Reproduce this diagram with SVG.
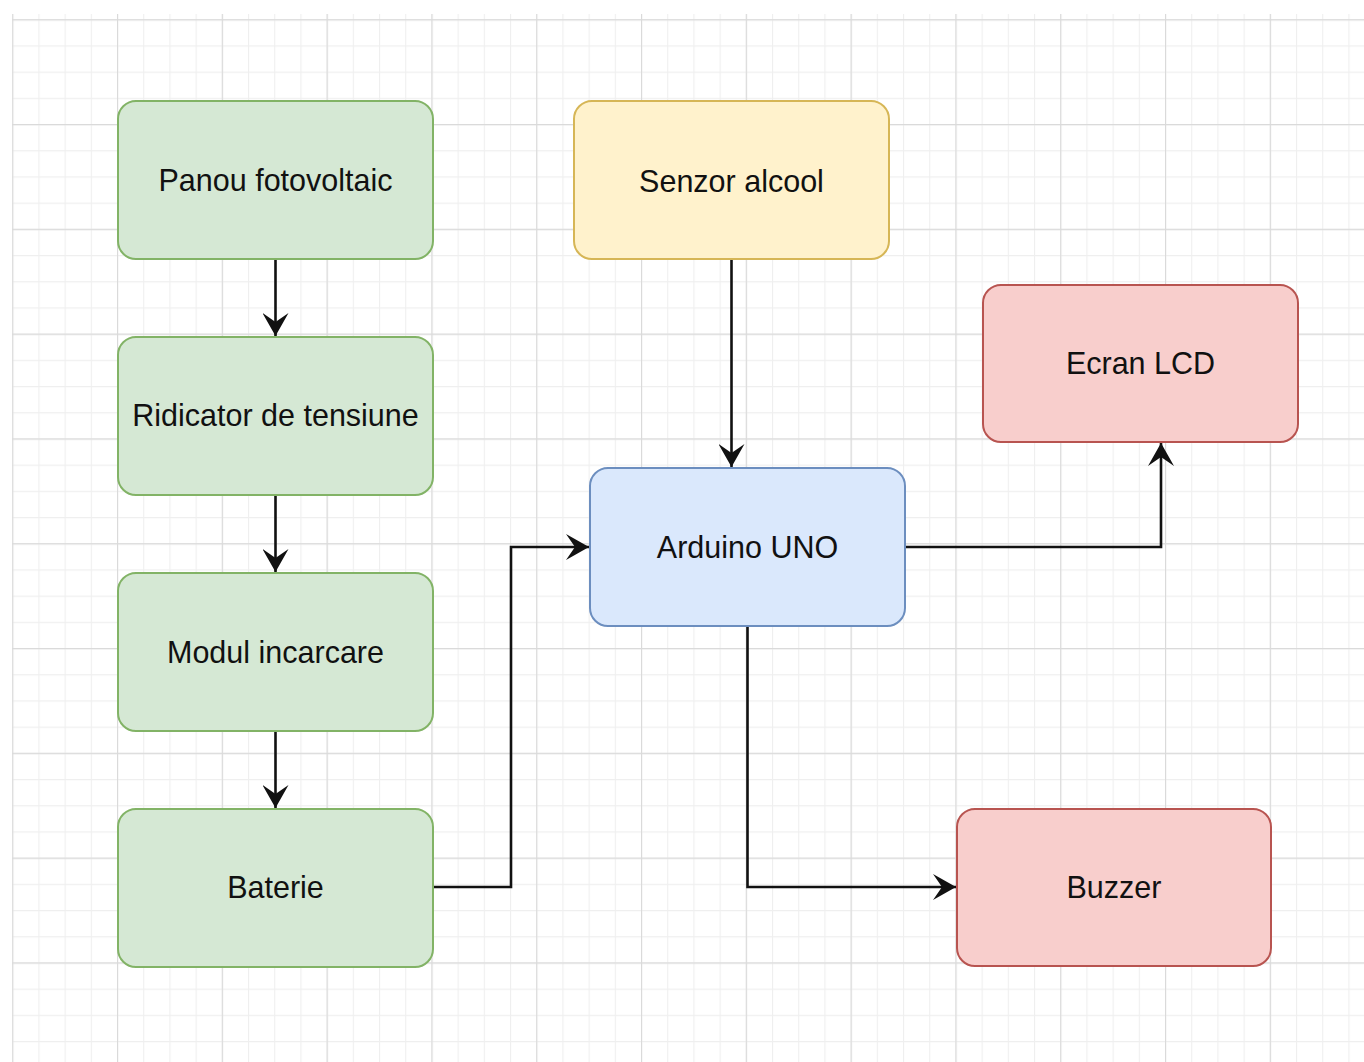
<svg xmlns="http://www.w3.org/2000/svg" width="1364" height="1062" viewBox="0 0 1364 1062">
  <defs>
    <pattern id="minor" patternUnits="userSpaceOnUse" x="12.2" y="19.2" width="26.2" height="26.2">
      <path d="M0 0.5H26.2M0.5 0V26.2" fill="none" stroke="#efefef" stroke-width="1.2"/>
    </pattern>
    <pattern id="major" patternUnits="userSpaceOnUse" x="12.2" y="19.2" width="104.8" height="104.8">
      <path d="M0 0.5H104.8M0.5 0V104.8" fill="none" stroke="#dadada" stroke-width="1.3"/>
    </pattern>
    <marker id="arr" viewBox="0 0 24 26" refX="23" refY="13" markerWidth="24" markerHeight="26" markerUnits="userSpaceOnUse" orient="auto">
      <path d="M0 0L23 13L0 26L9 13Z" fill="#111"/>
    </marker>
    <style>
      .node rect { stroke-width: 2; }
      .green rect { fill: #d5e8d4; stroke: #82b366; }
      .yellow rect { fill: #fff2cc; stroke: #d6b656; }
      .blue rect { fill: #dae8fc; stroke: #6c8ebf; }
      .red rect { fill: #f8cecc; stroke: #b85450; }
      .node text { font-family: "Liberation Sans", Arial, sans-serif; font-size: 30.5px; fill: #111; text-anchor: middle; }
      .edge { fill: none; stroke: #111; stroke-width: 2.6; marker-end: url(#arr); }
    </style>
  </defs>
  <rect width="1364" height="1062" fill="#ffffff"/>
  <rect x="12" y="14" width="1352" height="1048" fill="url(#minor)"/>
  <rect x="12" y="14" width="1352" height="1048" fill="url(#major)"/>

  <g id="connectors">
    <path class="edge" d="M275.5 259V336"/>
    <path class="edge" d="M275.5 495V572"/>
    <path class="edge" d="M275.5 731V808"/>
    <path class="edge" d="M433 887H511V547H589"/>
    <path class="edge" d="M731.5 259V467"/>
    <path class="edge" d="M905 547H1161V443"/>
    <path class="edge" d="M747.5 626V887H956"/>
  </g>

  <g id="panou" class="node green">
    <rect x="118" y="101" width="315" height="158" rx="18"/>
    <text x="275.5" y="191">Panou fotovoltaic</text>
  </g>
  <g id="ridicator" class="node green">
    <rect x="118" y="337" width="315" height="158" rx="18"/>
    <text x="275.5" y="426">Ridicator de tensiune</text>
  </g>
  <g id="modul" class="node green">
    <rect x="118" y="573" width="315" height="158" rx="18"/>
    <text x="275.5" y="663">Modul incarcare</text>
  </g>
  <g id="baterie" class="node green">
    <rect x="118" y="809" width="315" height="158" rx="18"/>
    <text x="275.5" y="898">Baterie</text>
  </g>
  <g id="senzor" class="node yellow">
    <rect x="574" y="101" width="315" height="158" rx="18"/>
    <text x="731.5" y="192">Senzor alcool</text>
  </g>
  <g id="arduino" class="node blue">
    <rect x="590" y="468" width="315" height="158" rx="18"/>
    <text x="747.5" y="558">Arduino UNO</text>
  </g>
  <g id="lcd" class="node red">
    <rect x="983" y="285" width="315" height="157" rx="18"/>
    <text x="1140.5" y="374">Ecran LCD</text>
  </g>
  <g id="buzzer" class="node red">
    <rect x="957" y="809" width="314" height="157" rx="18"/>
    <text x="1114" y="898">Buzzer</text>
  </g>
</svg>
